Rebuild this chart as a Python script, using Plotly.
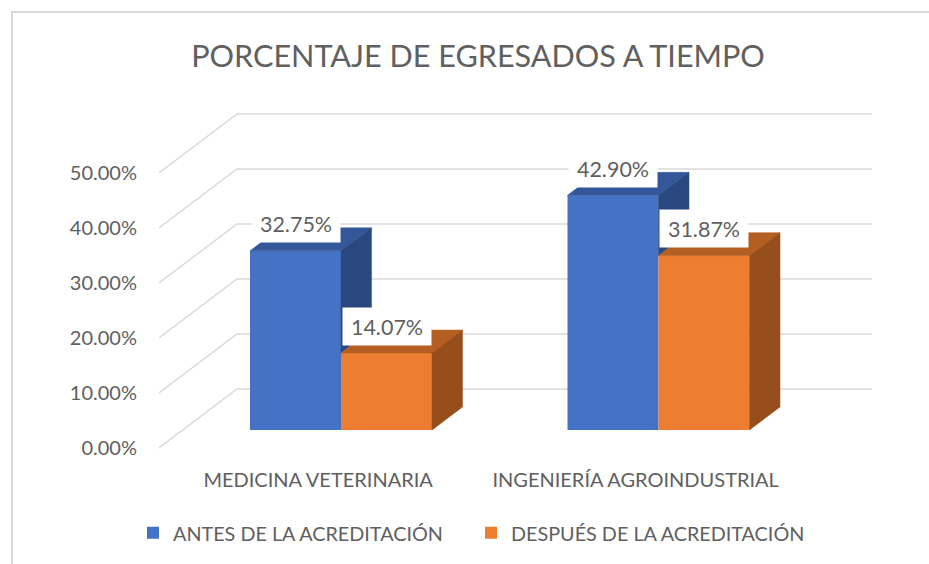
import plotly.graph_objects as go

categories = ["MEDICINA VETERINARIA", "INGENIERÍA AGROINDUSTRIAL"]
series_names = ["ANTES DE LA ACREDITACIÓN", "DESPUÉS DE LA ACREDITACIÓN"]
antes = [32.75, 42.90]
despues = [14.07, 31.87]
y_ticks = [0, 10, 20, 30, 40, 50]
y_labels = ["0.00%", "10.00%", "20.00%", "30.00%", "40.00%", "50.00%"]
title = "PORCENTAJE DE EGRESADOS A TIEMPO"

W, H = 929, 564
L, R, T, B = 159, 880, 100, 460     # plot area in page pixels
X0, X_PX = 341, 317.5               # pixel of category 0, pixels per category
Y_PX, Y2_PX = 5.5, 5.47             # pixels per percent (axis / bars)
Y_ZERO, Y2_ZERO = 448, 430          # pixel of 0 % (axis front edge / bar front plane)

x_range = [(L - X0) / X_PX, (R - X0) / X_PX]
y_range = [(Y_ZERO - B) / Y_PX, (Y_ZERO - T) / Y_PX]
y2_range = [(Y2_ZERO - B) / Y2_PX, (Y2_ZERO - T) / Y2_PX]

bar_w = 91 / X_PX
dx, dy = 30.5 / X_PX, 23 / Y2_PX    # bar depth
wall_dx, wall_dy = (237 - L) / X_PX, 59 / Y_PX
grid_right = (872 - X0) / X_PX

BLUE, BLUE_TOP, BLUE_SIDE = "#4472C4", "#34579A", "#2A4880"
ORANGE, ORANGE_TOP, ORANGE_SIDE = "#ED7D31", "#B55E22", "#964E1B"
GRID, TEXT = "#D9D9D9", "#606060"
FONT = "Lato"

fig = go.Figure()

# Wall and side grid, one bent line per axis tick
for v in y_ticks:
    fig.add_trace(go.Scatter(
        x=[x_range[0], x_range[0] + wall_dx, grid_right],
        y=[v, v + wall_dy, v + wall_dy],
        mode="lines", line=dict(color=GRID, width=1.4),
        showlegend=False, hoverinfo="skip", yaxis="y"))

# Front faces
fig.add_trace(go.Bar(x=[0, 1], y=antes, name=series_names[0], width=bar_w, offset=-bar_w,
                     marker=dict(color=BLUE, line_width=0), yaxis="y2"))
fig.add_trace(go.Bar(x=[0, 1], y=despues, name=series_names[1], width=bar_w, offset=0,
                     marker=dict(color=ORANGE, line_width=0), yaxis="y2"))


def face(xs, ys, color):
    fig.add_trace(go.Scatter(x=xs, y=ys, mode="lines", fill="toself", fillcolor=color,
                             line=dict(color=color, width=0.5), showlegend=False,
                             hoverinfo="skip", yaxis="y2"))


# Top and side faces, back to front
for i, (a, d) in enumerate(zip(antes, despues)):
    x_l, x_m, x_r = i - bar_w, i, i + bar_w
    face([x_l, x_l + dx, x_m + dx, x_m, x_l], [a, a + dy, a + dy, a, a], BLUE_TOP)
    face([x_m, x_m + dx, x_m + dx, x_m, x_m], [a, a + dy, d + dy, d, a], BLUE_SIDE)
    face([x_m, x_m + dx, x_r + dx, x_r, x_m], [d, d + dy, d + dy, d, d], ORANGE_TOP)
    face([x_r, x_r + dx, x_r + dx, x_r, x_r], [d, d + dy, dy, 0, d], ORANGE_SIDE)

# Data labels on white boxes
for off, vals in ((-bar_w / 2, antes), (bar_w / 2, despues)):
    for i, v in enumerate(vals):
        fig.add_annotation(x=i + off, y=v, xref="x", yref="y2", yshift=27,
                           text=f"{v:.2f}%", showarrow=False, bgcolor="white",
                           width=86, height=35, font=dict(family=FONT, size=21.5, color=TEXT))

px = lambda p: (p - L) / (R - L)
py = lambda p: (B - p) / (B - T)
fig.add_shape(type="path", xref="paper", yref="paper",
              path=f"M {px(12)} {py(H)} L {px(12)} {py(12)} L {px(W)} {py(12)}",
              line=dict(color=GRID, width=2))

fig.update_layout(
    width=W, height=H, margin=dict(l=L, r=W - R, t=T, b=H - B),
    paper_bgcolor="white", plot_bgcolor="white",
    barmode="overlay",
    font=dict(family=FONT, color=TEXT),
    title=dict(text=title, x=478 / W, xanchor="center", y=1 - 56 / H, yanchor="middle",
               font=dict(family=FONT, size=30.6, color=TEXT)),
    xaxis=dict(range=x_range, tickmode="array", tickvals=[i - 0.072 for i in range(len(categories))],
               ticktext=categories, tickfont=dict(size=20), showgrid=False, zeroline=False,
               showline=False, ticks="", ticklabelstandoff=6),
    yaxis=dict(range=y_range, tickmode="array", tickvals=y_ticks, ticktext=y_labels,
               tickfont=dict(size=20), showgrid=False, zeroline=False, showline=False, ticks="",
               ticklabelstandoff=21),
    yaxis2=dict(range=y2_range, overlaying="y", visible=False),
    legend=dict(orientation="h", x=(133 - L) / (R - L), y=(B - 533) / (B - T), xanchor="left",
                yanchor="middle", font=dict(size=19.8), entrywidth=293, entrywidthmode="pixels",
                bgcolor="rgba(0,0,0,0)", traceorder="normal"),
)

fig.write_html("out.html", config={"displayModeBar": False},
               post_script="document.body.style.margin='0';")
